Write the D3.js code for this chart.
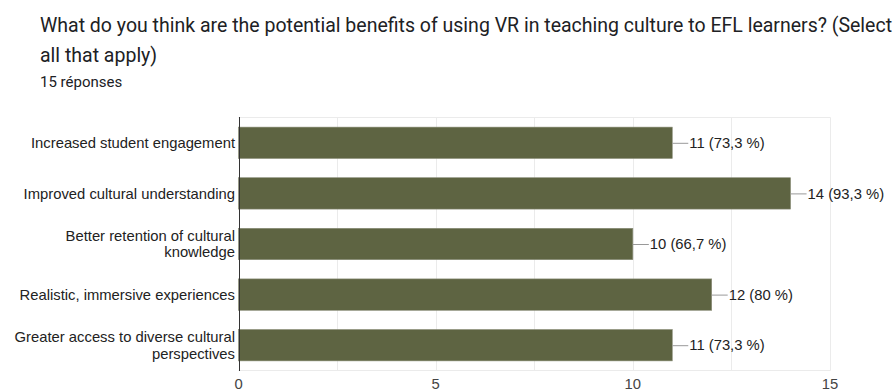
<!DOCTYPE html>
<html>
<head>
<meta charset="utf-8">
<script src="https://cdn.jsdelivr.net/npm/d3@7"></script>
<style>
  html, body { margin: 0; padding: 0; background: #fff; }
  svg { display: block; }
</style>
</head>
<body>
<svg id="chart" width="895" height="392"></svg>
<script>
// Survey question and response count
const titleLines = [
  "What do you think are the potential benefits of using VR in teaching culture to EFL learners? (Select",
  "all that apply)"
];
const responsesLabel = "15 réponses";

// Answer options (each entry is the list of wrapped lines)
const categories = [
  ["Increased student engagement"],
  ["Improved cultural understanding"],
  ["Better retention of cultural", "knowledge"],
  ["Realistic, immersive experiences"],
  ["Greater access to diverse cultural", "perspectives"]
];
// Number of respondents choosing each option
const counts = [11, 14, 10, 12, 11];
// Percentage labels as printed
const percents = ["73,3 %", "93,3 %", "66,7 %", "80 %", "73,3 %"];
// Axis ticks
const tickValues = [0, 5, 10, 15];
const gridValues = [0, 2.5, 5, 7.5, 10, 12.5, 15];

const svg = d3.select("#chart");
const labelFont = "'Liberation Sans', Arial, sans-serif";
const labelSize = 14.8;

// Header
const title = svg.append("g")
  .attr("font-family", "Roboto, 'Noto Sans', sans-serif")
  .attr("fill", "#202124");
title.selectAll("text.title")
  .data(titleLines)
  .join("text")
  .attr("class", "title")
  .attr("x", 40)
  .attr("y", (d, i) => 32 + i * 30)
  .attr("font-size", 19.5)
  .text(d => d);
title.append("text")
  .attr("x", 40)
  .attr("y", 87)
  .attr("font-size", 15)
  .text(responsesLabel);

// Scales
const ids = categories.map((d, i) => i);
const x = d3.scaleLinear().domain([0, 15]).range([238.5, 830]);
const y = d3.scaleBand().domain(ids).range([117.5, 370.5])
  .paddingInner(0.38).paddingOuter(0.19);

const plot = svg.append("g");

// Vertical gridlines
plot.selectAll("line.grid")
  .data(gridValues)
  .join("line")
  .attr("class", "grid")
  .attr("x1", d => Math.round(x(d)) + 0.5)
  .attr("x2", d => Math.round(x(d)) + 0.5)
  .attr("y1", 117.5)
  .attr("y2", 370.5)
  .attr("stroke", "#ebebeb");
// Top and bottom frame lines
plot.selectAll("line.frame")
  .data([117.5, 370.5])
  .join("line")
  .attr("class", "frame")
  .attr("x1", x(0))
  .attr("x2", x(15) + 0.5)
  .attr("y1", d => d)
  .attr("y2", d => d)
  .attr("stroke", "#ebebeb");

// Bars
plot.selectAll("rect.bar")
  .data(counts)
  .join("rect")
  .attr("class", "bar")
  .attr("x", x(0))
  .attr("y", (d, i) => y(i))
  .attr("width", d => x(d) - x(0))
  .attr("height", y.bandwidth())
  .attr("fill", "#5e6442")
  .attr("stroke", "#8a8d78")
  .attr("stroke-width", 0.6);

// Baseline axis
plot.append("line")
  .attr("x1", Math.round(x(0)) + 0.5)
  .attr("x2", Math.round(x(0)) + 0.5)
  .attr("y1", 117)
  .attr("y2", 371)
  .attr("stroke", "#333");

// Value labels with leader lines
const valueG = plot.selectAll("g.value")
  .data(counts)
  .join("g")
  .attr("class", "value")
  .attr("transform", (d, i) => `translate(${x(d)},${y(i) + y.bandwidth() / 2})`);
valueG.append("line")
  .attr("x1", 0).attr("x2", 16)
  .attr("y1", 0.5).attr("y2", 0.5)
  .attr("stroke", "#999");
valueG.append("text")
  .attr("x", 17)
  .attr("dy", "0.35em")
  .attr("font-family", labelFont)
  .attr("font-size", labelSize)
  .attr("fill", "#222")
  .text((d, i) => `${d} (${percents[i]})`);

// Category labels (right aligned, wrapped)
const catG = plot.selectAll("text.cat")
  .data(categories)
  .join("text")
  .attr("class", "cat")
  .attr("text-anchor", "end")
  .attr("font-family", labelFont)
  .attr("font-size", labelSize)
  .attr("fill", "#222");
catG.each(function (lines, i) {
  const cy = y(i) + y.bandwidth() / 2;
  const lh = 16.5;
  const start = cy - (lines.length - 1) * lh / 2;
  d3.select(this).selectAll("tspan")
    .data(lines)
    .join("tspan")
    .attr("x", x(0) - 3.5)
    .attr("y", (d, j) => start + j * lh)
    .attr("dy", "0.35em")
    .text(d => d);
});

// X axis tick labels
plot.selectAll("text.tick")
  .data(tickValues)
  .join("text")
  .attr("class", "tick")
  .attr("x", d => x(d))
  .attr("y", 388.5)
  .attr("text-anchor", "middle")
  .attr("font-family", labelFont)
  .attr("font-size", labelSize)
  .attr("fill", "#444")
  .text(d => d);
</script>
</body>
</html>
